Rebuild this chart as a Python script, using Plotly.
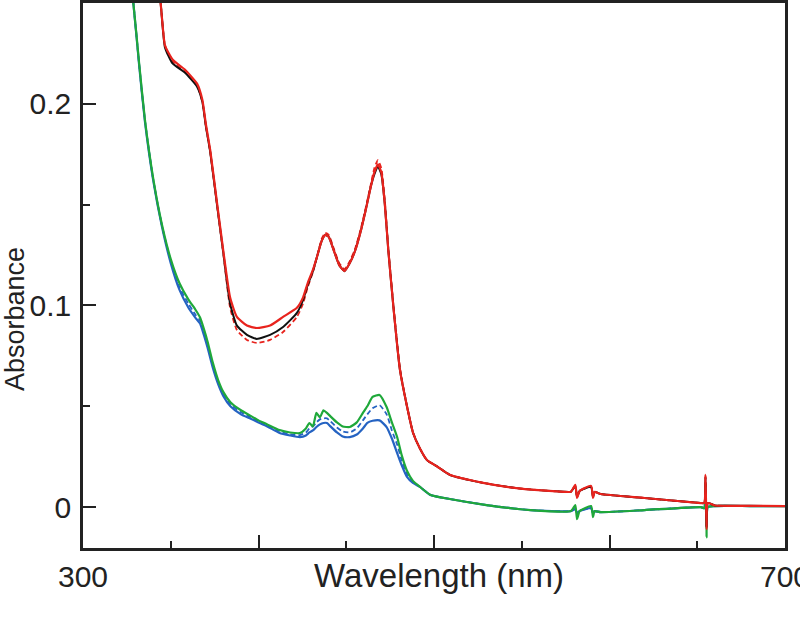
import plotly.graph_objects as go

# ---------------- data ----------------
wl_upper = [338, 342, 344, 346.7, 351, 358, 365, 368, 370, 372.5, 376.5, 379.8, 383.8,
            387.7, 393.4, 399, 406.6, 414, 421.9, 425.4, 428, 431, 433.3, 436, 438, 440,
            443, 446, 449, 452, 455, 458, 461, 464, 466, 468, 470, 472, 474, 477, 480.6,
            484.6, 488, 492, 496, 502, 509, 528, 547, 570, 578, 580.5, 581.5, 583, 589.5,
            590.6, 591.5, 595, 620, 652, 654, 654.7, 655.3, 656, 660, 680, 700]

red_solid = [0.280, 0.258, 0.2516, 0.229, 0.222, 0.217, 0.210, 0.202, 0.190, 0.177, 0.150,
             0.128, 0.104, 0.0943, 0.090, 0.0888, 0.090, 0.0943, 0.0988, 0.104, 0.111, 0.1176,
             0.124, 0.132, 0.135, 0.134, 0.127, 0.120, 0.117, 0.121, 0.127, 0.136, 0.147,
             0.159, 0.166, 0.170, 0.166, 0.150, 0.127, 0.098, 0.068, 0.050, 0.037, 0.029,
             0.0233, 0.020, 0.016, 0.012, 0.0094, 0.0078, 0.0076, 0.011, 0.0045, 0.008,
             0.0105, 0.0045, 0.0075, 0.0065, 0.0045, 0.002, 0.002, 0.016, -0.011, 0.002,
             0.0008, 0.0006, 0.0005]

black_solid = [0.280, 0.258, 0.2516, 0.228, 0.220, 0.2155, 0.2085, 0.201, 0.189, 0.176, 0.149,
               0.127, 0.101, 0.090, 0.0854, 0.0834, 0.0854, 0.0893, 0.0963, 0.1027, 0.110, 0.117,
               0.124, 0.132, 0.135, 0.134, 0.127, 0.120, 0.117, 0.121, 0.127, 0.136, 0.147,
               0.159, 0.165, 0.169, 0.165, 0.150, 0.127, 0.098, 0.068, 0.050, 0.037, 0.029,
               0.0233, 0.020, 0.016, 0.012, 0.0094, 0.0078, 0.0076, 0.0105, 0.005, 0.008,
               0.010, 0.005, 0.0075, 0.0065, 0.0045, 0.002, 0.002, 0.015, -0.010, 0.002,
               0.0008, 0.0006, 0.0005]

red_dashed = [0.280, 0.258, 0.2516, 0.229, 0.221, 0.216, 0.209, 0.201, 0.189, 0.176, 0.149,
              0.127, 0.099, 0.0878, 0.0829, 0.0814, 0.0829, 0.0868, 0.0943, 0.101, 0.109, 0.1165,
              0.124, 0.133, 0.136, 0.135, 0.128, 0.121, 0.118, 0.122, 0.128, 0.137, 0.148,
              0.160, 0.168, 0.172, 0.168, 0.152, 0.128, 0.099, 0.069, 0.050, 0.037, 0.029,
              0.0233, 0.020, 0.016, 0.012, 0.0094, 0.0078, 0.0076, 0.0105, 0.005, 0.008,
              0.010, 0.005, 0.0075, 0.0065, 0.0045, 0.002, 0.002, 0.015, -0.010, 0.002,
              0.0008, 0.0006, 0.0005]

wl_lower = [325, 328.5, 332, 335.3, 340, 345, 350, 355, 360, 364, 366.7, 369, 371, 374, 377,
            380, 384, 390, 395, 400, 405, 412, 418, 423.6, 427, 429, 431, 433, 435, 437, 439,
            441, 444.7, 448, 452, 456, 459.5, 462, 465, 469, 473, 476, 479, 481.5, 484.6, 488,
            492, 498, 509, 530, 555, 578, 580.5, 581.5, 583, 589.5, 590.6, 591.5, 595, 620,
            652, 654, 654.7, 655.3, 656, 660, 680, 700]

green_solid = [0.275, 0.2516, 0.220, 0.192, 0.163, 0.140, 0.123, 0.111, 0.103, 0.098, 0.094,
               0.088, 0.082, 0.0715, 0.063, 0.057, 0.052, 0.048, 0.0455, 0.043, 0.041, 0.0382,
               0.037, 0.0367, 0.039, 0.0417, 0.040, 0.0467, 0.0445, 0.048, 0.0467, 0.045, 0.042,
               0.040, 0.0397, 0.042, 0.0467, 0.050, 0.0546, 0.0556, 0.0496, 0.042, 0.0347, 0.026,
               0.018, 0.013, 0.010, 0.006, 0.004, 0.001, -0.0015, -0.002, 0.001, -0.006, -0.002,
               0.0005, -0.005, -0.002, -0.0025, -0.0015, 0.0, -0.0005, 0.012, -0.015, 0.0,
               0.0005, 0.0005, 0.0005]

blue_solid = [0.275, 0.2516, 0.219, 0.191, 0.162, 0.139, 0.121, 0.1077, 0.099, 0.094, 0.091,
              0.085, 0.079, 0.069, 0.061, 0.055, 0.050, 0.046, 0.044, 0.042, 0.040, 0.0367,
              0.0355, 0.0347, 0.0355, 0.037, 0.038, 0.0397, 0.041, 0.0417, 0.0417, 0.040, 0.037,
              0.035, 0.0347, 0.036, 0.039, 0.0417, 0.0428, 0.043, 0.0397, 0.034, 0.0268, 0.021,
              0.015, 0.012, 0.010, 0.006, 0.004, 0.001, -0.0015, -0.002, -0.001, -0.003, -0.002,
              -0.0005, -0.003, -0.002, -0.0025, -0.0015, 0.0, -0.0005, 0.008, -0.010, 0.0,
              0.0005, 0.0005, 0.0005]

blue_dashed = [0.275, 0.2516, 0.2195, 0.1915, 0.1625, 0.1395, 0.122, 0.109, 0.101, 0.0955, 0.0925,
               0.0865, 0.0805, 0.070, 0.062, 0.056, 0.051, 0.047, 0.0448, 0.0425, 0.0405, 0.0375,
               0.036, 0.0357, 0.037, 0.039, 0.040, 0.042, 0.0435, 0.044, 0.044, 0.0425, 0.0395,
               0.0375, 0.037, 0.039, 0.043, 0.046, 0.049, 0.0505, 0.046, 0.038, 0.031, 0.0235,
               0.0165, 0.0125, 0.010, 0.006, 0.004, 0.001, -0.0015, -0.002, -0.001, -0.003, -0.002,
               -0.0005, -0.003, -0.002, -0.0025, -0.0015, 0.0, -0.0005, 0.008, -0.010, 0.0,
               0.0005, 0.0005, 0.0005]

x_ticks = [300, 400, 500, 600, 700]
x_tick_text = ["300", "", "", "", "700"]
y_ticks = [0, 0.1, 0.2]
y_tick_text = ["0", "0.1", "0.2"]

RED = "#e8231d"
GREEN = "#1fa83a"
BLUE = "#2563c2"
BLACK = "#111111"

fig = go.Figure()

def add(x, y, color, width, dash="solid"):
    fig.add_trace(go.Scatter(x=x, y=y, mode="lines",
                             line=dict(color=color, width=width, dash=dash,
                                       shape="spline", smoothing=0.5),
                             showlegend=False, hoverinfo="skip"))

# lower group
add(wl_lower, blue_dashed, BLUE, 1.8, "5px,3px")
add(wl_lower, blue_solid, BLUE, 2.2)
add(wl_lower, green_solid, GREEN, 2.2)
# upper group
add(wl_upper, red_dashed, RED, 1.8, "5px,3px")
add(wl_upper, black_solid, BLACK, 2.0)
add(wl_upper, red_solid, RED, 2.2)

font_family = "Liberation Sans, Arial, sans-serif"
AX = "#222222"

fig.update_layout(
    width=800, height=625,
    margin=dict(l=83, r=15, t=3, b=77, autoexpand=False),
    paper_bgcolor="white", plot_bgcolor="white",
    font=dict(family=font_family, color=AX),
    xaxis=dict(range=[300, 700], tickvals=x_ticks, ticktext=x_tick_text,
               ticks="inside", ticklen=13, tickwidth=2, tickcolor=AX,
               minor=dict(dtick=50, tick0=300, ticks="inside", ticklen=7, tickwidth=2,
                          tickcolor=AX),
               showline=True, linecolor=AX, linewidth=2.5, mirror=True,
               showgrid=False, zeroline=False, automargin=False,
               tickfont=dict(size=30, family=font_family, color=AX),
               ticklabelstandoff=0, ticklabeloverflow="allow"),
    yaxis=dict(range=[-0.0203, 0.250], tickvals=y_ticks, ticktext=y_tick_text,
               ticks="inside", ticklen=13, tickwidth=2, tickcolor=AX,
               minor=dict(dtick=0.05, tick0=0, ticks="inside", ticklen=7, tickwidth=2,
                          tickcolor=AX),
               showline=True, linecolor=AX, linewidth=2.5, mirror=True,
               showgrid=False, zeroline=False, automargin=False,
               tickfont=dict(size=30, family=font_family, color=AX),
               ticklabelstandoff=3),
    annotations=[
        dict(text="Wavelength (nm)", xref="paper", yref="paper", x=0.507, y=-0.05,
             xanchor="center", yanchor="middle", showarrow=False,
             font=dict(size=33, family=font_family, color=AX)),
        dict(text="Absorbance", xref="paper", yref="paper", x=-0.097, y=0.42,
             xanchor="center", yanchor="middle", showarrow=False, textangle=-90,
             font=dict(size=27, family=font_family, color=AX)),
    ],
)

fig.write_html("out.html", post_script="document.body.style.margin='0';",
               config={"displayModeBar": False})
